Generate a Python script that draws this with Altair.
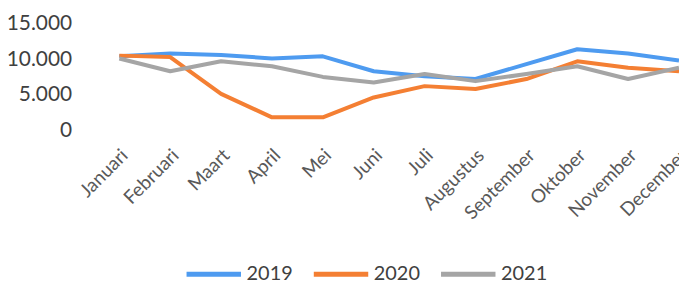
import altair as alt
import pandas as pd

months = ["Januari", "Februari", "Maart", "April", "Mei", "Juni", "Juli",
          "Augustus", "September", "Oktober", "November", "December"]
years = ["2019", "2020", "2021"]
v2019 = [10400, 10800, 10600, 10100, 10400, 8300, 7600, 7200, 9300, 11400, 10800, 9800]
v2020 = [10500, 10300, 5100, 1800, 1800, 4600, 6200, 5800, 7200, 9700, 8800, 8300]
v2021 = [10100, 8300, 9700, 9000, 7500, 6700, 7900, 6900, 7900, 9000, 7200, 8800]
colors = ["#4E9BF0", "#F47F33", "#A5A5A5"]
y_ticks = [0, 5000, 10000, 15000]

rows = []
for yr, vals in zip(years, [v2019, v2020, v2021]):
    for m, v in zip(months, vals):
        rows.append({"Maand": m, "Jaar": yr, "Waarde": v})
df = pd.DataFrame(rows)

chart = alt.Chart(df).mark_line(strokeWidth=4, strokeJoin="round").encode(
    x=alt.X("Maand:N", sort=months,
            scale=alt.Scale(type="point", padding=0),
            axis=alt.Axis(title=None, labelAngle=-45, labelFontSize=19,
                          labelColor="#595959", labelFont="Lato",
                          labelAlign="right", labelBaseline="middle",
                          domain=False, ticks=False, grid=False, labelPadding=22,
                          labelOffset=5)),
    y=alt.Y("Waarde:Q", scale=alt.Scale(domain=[0, 15000], nice=False),
            axis=alt.Axis(title=None, values=y_ticks,
                          labelExpr="replace(format(datum.value, ','), ',', '.')",
                          labelFontSize=21, labelColor="#404040", labelFont="Lato",
                          domain=False, ticks=False, grid=False, labelPadding=48)),
    color=alt.Color("Jaar:N",
                    scale=alt.Scale(domain=years, range=colors),
                    legend=alt.Legend(title=None, orient="none", legendX=65, legendY=222,
                                      direction="horizontal", symbolType="stroke",
                                      symbolSize=3000, symbolStrokeWidth=5,
                                      labelFontSize=20, labelFont="Lato",
                                      labelColor="#404040", columnPadding=10,
                                      labelOffset=3)),
).properties(
    width=563, height=107,
    padding={"left": 112, "top": 15, "right": 0, "bottom": 150},
    autosize="none",
).configure_view(stroke=None)

chart.save("out.html", embed_options={"renderer": "svg", "actions": False})
